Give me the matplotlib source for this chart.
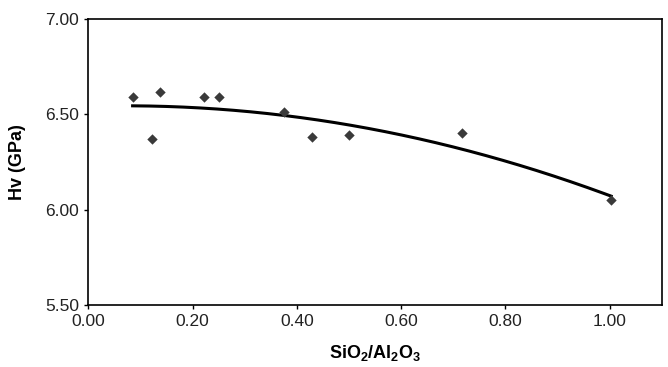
import numpy as np
import matplotlib
matplotlib.use("Agg")
import matplotlib.pyplot as plt

plt.rcParams["font.family"] = ["Liberation Sans", "DejaVu Sans"]
plt.rcParams["mathtext.fontset"] = "custom"
plt.rcParams["mathtext.rm"] = "Liberation Sans"
plt.rcParams["mathtext.bf"] = "Liberation Sans:bold"

# SiO2/Al2O3 ratio vs Vickers hardness
ratio = [0.085, 0.122, 0.137, 0.222, 0.251, 0.376, 0.430, 0.501, 0.717, 1.003]
hv = [6.589, 6.371, 6.619, 6.589, 6.589, 6.511, 6.381, 6.390, 6.400, 6.051]

x_ticks = [0.0, 0.2, 0.4, 0.6, 0.8, 1.0]
y_ticks = [5.5, 6.0, 6.5, 7.0]

# 2nd-order polynomial trendline, as the spreadsheet would draw it
coef = np.polyfit(ratio, hv, 2)
xs = np.linspace(min(ratio), max(ratio), 200)
ys = np.polyval(coef, xs)

fig = plt.figure(figsize=(6.68, 3.67), dpi=100)
ax = fig.add_axes([88.3 / 668, 1 - 305 / 367, (661.7 - 88.3) / 668, (305 - 19) / 367])

ax.plot(xs, ys, color="black", lw=2.2)
ax.scatter(ratio, hv, marker="D", s=28, color="#3a3a3a", zorder=3, linewidths=0)

ax.set_xlim(0, 1.1)
ax.set_ylim(5.5, 7.0)
ax.set_xticks(x_ticks)
ax.set_yticks(y_ticks)
ax.set_xticklabels([f"{v:.2f}" for v in x_ticks])
ax.set_yticklabels([f"{v:.2f}" for v in y_ticks])
ax.tick_params(direction="out", length=3, width=1, labelsize=12.5, colors="black", labelcolor="#222222")
for s in ax.spines.values():
    s.set_linewidth(1.2)

ax.set_xlabel(r"SiO$_\mathbf{2}$/Al$_\mathbf{2}$O$_\mathbf{3}$", fontsize=13, fontweight="bold", labelpad=10)
ax.set_ylabel("Hv (GPa)", fontsize=13, fontweight="bold", labelpad=14)

plt.savefig("out.png", dpi=100)
